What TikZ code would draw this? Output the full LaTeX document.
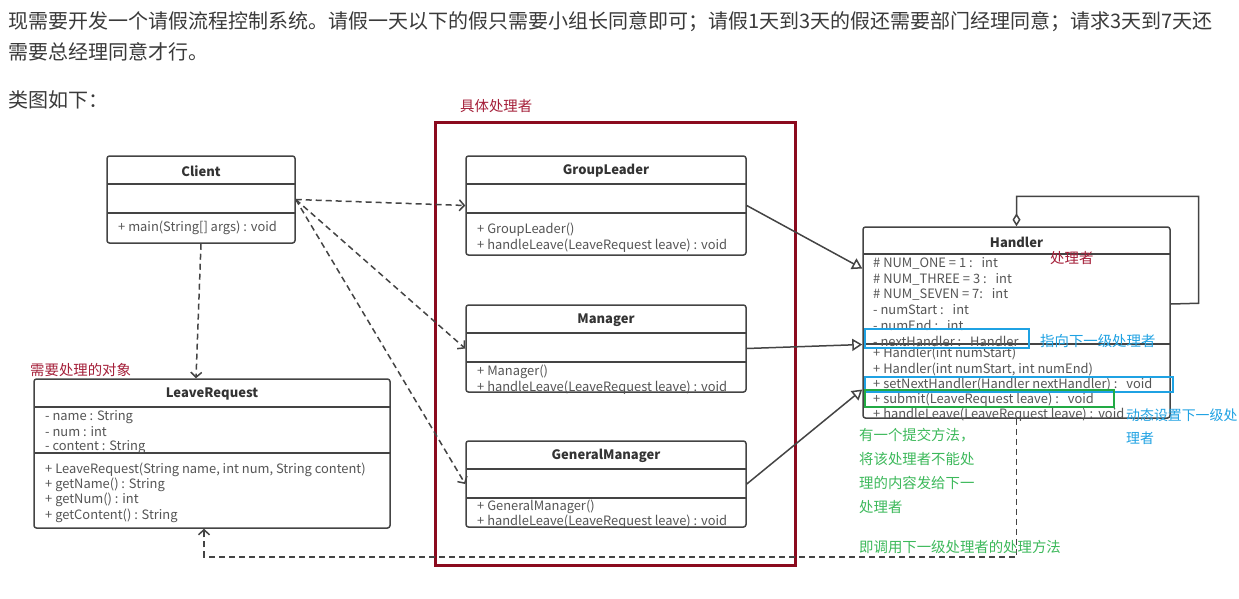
\documentclass[tikz,border=0pt]{standalone}
\usepackage{fontspec}
\setmainfont{Noto Sans CJK SC}
\usetikzlibrary{arrows.meta}

\definecolor{linegray}{HTML}{444444}
\definecolor{textgray}{HTML}{555555}
\definecolor{namegray}{HTML}{333333}
\definecolor{paragray}{HTML}{3A3A3A}
\definecolor{framered}{HTML}{8B0A1E}
\definecolor{notered}{HTML}{A5203A}
\definecolor{noteblue}{HTML}{1FA2E3}
\definecolor{notegreen}{HTML}{3DB95B}
\definecolor{boxgreen}{HTML}{22AA44}

\tikzset{
  para/.style={anchor=west, inner sep=0pt, text=paragray, font=\fontsize{20}{24}\selectfont},
  classbox/.style={draw=linegray, line width=1.5pt, rounded corners=2.5pt, fill=white, inner sep=0pt},
  divider/.style={draw=linegray, line width=1.5pt},
  cname/.style={inner sep=0pt, text=namegray, font=\fontsize{13}{15}\selectfont\bfseries},
  member/.style={anchor=west, inner sep=0pt, text=textgray, font=\fontsize{12.9}{14}\selectfont},
  dep/.style={draw=linegray, line width=1.5pt, dash pattern=on 6pt off 4pt,
    -{Straight Barb[length=5pt,width=11pt]}},
  gen/.style={draw=linegray, line width=1.5pt, -{Triangle[open,length=10pt,width=12pt,fill=white]}},
  agg/.style={draw=linegray, line width=1.5pt, {Diamond[open,length=13pt,width=8pt,fill=white]}-},
  note/.style={anchor=west, inner sep=0pt, font=\fontsize{14.4}{24}\selectfont},
  frame/.style={draw=framered, line width=3pt, inner sep=0pt},
  hilite/.style={line width=2.5pt},
}

\begin{document}
\begin{tikzpicture}[x=1pt,y=-1pt]
\path[fill=white] (0,0) rectangle (1239,598);
\useasboundingbox (0,0) rectangle (1239,598);

% introductory paragraph
\node[para] (p1) at (8,22) {现需要开发一个请假流程控制系统。请假一天以下的假只需要小组长同意即可；请假1天到3天的假还需要部门经理同意；请求3天到7天还};
\node[para] (p2) at (8,52) {需要总经理同意才行。};
\node[para] (p3) at (8,100) {类图如下：};

% group of concrete handlers
\node[frame, minimum width=360pt, minimum height=443pt] (concrete) at (615,343.5) {};
\node[note, text=notered] (concretelbl) at (460,106) {具体处理者};

% Client
\node[classbox, minimum width=188pt, minimum height=87pt] (client) at (201,199.5) {};
\draw[divider] (107,184) -- (295,184);
\draw[divider] (107,213) -- (295,213);
\node[cname] (clientname) at (201,171) {Client};
\node[member] (clientm1) at (118,228) {+ main(String[] args) : void};

% GroupLeader
\node[classbox, minimum width=280pt, minimum height=99pt] (gl) at (606,205.5) {};
\draw[divider] (466,184) -- (746,184);
\draw[divider] (466,213) -- (746,213);
\node[cname] (glname) at (606,171) {GroupLeader};
\node[member] (glm1) at (477,230) {+ GroupLeader()};
\node[member] (glm2) at (477,246) {+ handleLeave(LeaveRequest leave) : void};

% Manager
\node[classbox, minimum width=280pt, minimum height=87pt] (mgr) at (606,348.5) {};
\draw[divider] (466,333) -- (746,333);
\draw[divider] (466,362) -- (746,362);
\node[cname] (mgrname) at (606,320) {Manager};
\node[member] (mgrm1) at (477,372) {+ Manager()};
\node[member] (mgrm2) at (477,388) {+ handleLeave(LeaveRequest leave) : void};

% GeneralManager
\node[classbox, minimum width=280pt, minimum height=86pt] (gm) at (606,484) {};
\draw[divider] (466,469) -- (746,469);
\draw[divider] (466,498) -- (746,498);
\node[cname] (gmname) at (606,456) {GeneralManager};
\node[member] (gmm1) at (477,507) {+ GeneralManager()};
\node[member] (gmm2) at (477,522) {+ handleLeave(LeaveRequest leave) : void};

% Handler
\node[classbox, minimum width=307pt, minimum height=191pt] (handler) at (1016.5,322.5) {};
\draw[divider] (863,254) -- (1170,254);
\draw[divider] (863,344) -- (1170,344);
\node[cname] (handlername) at (1016.5,242) {Handler};
\node[member] (ha1) at (873,263) {\# NUM\_ONE = 1 :\hspace{9pt}int};
\node[member] (ha2) at (873,279) {\# NUM\_THREE = 3 :\hspace{9pt}int};
\node[member] (ha3) at (873,294.5) {\# NUM\_SEVEN = 7:\hspace{9pt}int};
\node[member] (ha4) at (873,310) {- numStart :\hspace{9pt}int};
\node[member] (ha5) at (873,325.5) {- numEnd :\hspace{9pt}int};
\node[member] (ha6) at (873,341) {- nextHandler :\hspace{9pt}Handler};
\node[member] (hm1) at (873,353.5) {+ Handler(int numStart)};
\node[member] (hm2) at (873,369) {+ Handler(int numStart, int numEnd)};
\node[member] (hm3) at (873,384.5) {+ setNextHandler(Handler nextHandler) :\hspace{9pt}void};
\node[member] (hm4) at (873,400) {+ submit(LeaveRequest leave) :\hspace{9pt}void};
\node[member] (hm5) at (873,415) {+ handleLeave(LeaveRequest leave) :\hspace{5pt}void};

% LeaveRequest
\node[classbox, minimum width=356pt, minimum height=149pt] (lr) at (212,453.5) {};
\draw[divider] (34,407) -- (390,407);
\draw[divider] (34,453) -- (390,453);
\node[cname] (lrname) at (212,394) {LeaveRequest};
\node[member] (lra1) at (45,417) {- name : String};
\node[member] (lra2) at (45,432) {- num : int};
\node[member] (lra3) at (45,447) {- content : String};
\node[member] (lrm1) at (45,470) {+ LeaveRequest(String name, int num, String content)};
\node[member] (lrm2) at (45,485) {+ getName() : String};
\node[member] (lrm3) at (45,500) {+ getNum() : int};
\node[member] (lrm4) at (45,516) {+ getContent() : String};
\node[note, text=notered] (lrlbl) at (30,370) {需要处理的对象};

% dependencies of the client
\draw[dep] (client.east) -- (gl.west);
\draw[dep] (client.east) -- (mgr.west);
\draw[dep] (client.east) -- (gm.west);
\draw[dep] (client.south) -- ([xshift=-16pt]lr.north);

% concrete handlers extend Handler
\draw[gen] (gl.east) -- ([yshift=54pt]handler.west);
\draw[gen] (mgr.east) -- ([yshift=-22pt]handler.west);
\draw[gen] (gm.east) -- ([yshift=-67pt]handler.west);

% Handler keeps a reference to the next handler
\draw[agg] (handler.north) -- ++(0,-30) -| ++(182,107) -- ([yshift=18.5pt]handler.east);

% Handler uses LeaveRequest
\draw[dep] (handler.south) -- ++(0,138) -| ([xshift=-8pt]lr.south);

% highlights and remarks on Handler
\draw[hilite, draw=noteblue] (865,329) rectangle (1029,348);
\draw[hilite, draw=noteblue] (865,377) rectangle (1173,392);
\draw[hilite, draw=boxgreen] (865,390) rectangle (1114,407);
\node[note, text=notered] (handlerlbl) at (1050,258) {处理者};
\node[note, text=noteblue] (nextlbl) at (1040,341) {指向下一级处理者};
\node[note, text=noteblue, anchor=north west, align=left, font=\fontsize{13.9}{23}\selectfont] (setlbl) at (1126,409) {动态设置下一级处\\理者};
\node[note, text=notegreen, anchor=north west, align=left] (submitlbl) at (859,428) {有一个提交方法，\\将该处理者不能处\\理的内容发给下一\\处理者};
\node[note, text=notegreen] (calllbl) at (859,547) {即调用下一级处理者的处理方法};
\end{tikzpicture}
\end{document}
